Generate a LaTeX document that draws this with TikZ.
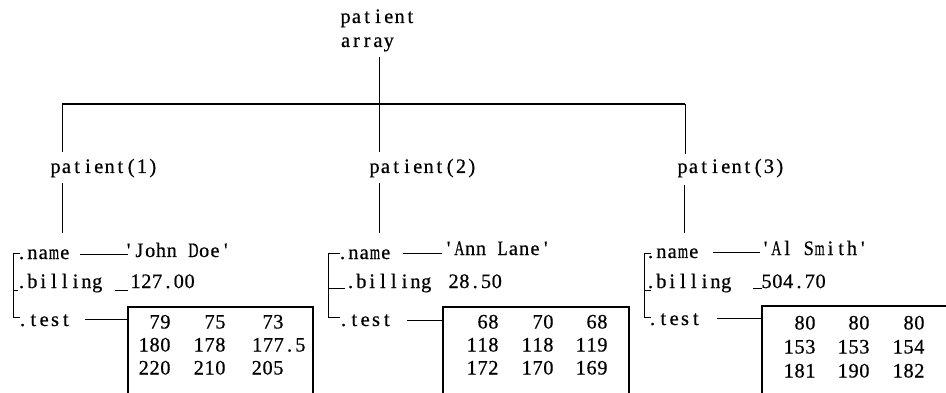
\documentclass[tikz,border=0pt]{standalone}
\usepackage{fontspec}
\usepackage{graphicx}
\newfontfamily\cellfont{Liberation Serif}[FakeBold=0.6]
\newlength\cellw \setlength\cellw{10.8pt}
\newlength\glyphw
\makeatletter
\newcommand\onecell[1]{\sbox0{#1}\setlength\glyphw{\wd0}%
  \ifdim\glyphw>0.94\cellw
    \pgfmathsetmacro\cellsc{0.94*\the\cellw/\the\glyphw}%
    \makebox[\cellw][c]{\scalebox{\cellsc}[1]{#1}}%
  \else\makebox[\cellw][c]{#1}\fi}
\newcommand\mono[1]{\@tfor\mch:=#1\do{\onecell{\mch}}}
\makeatother
\begin{document}
\begin{tikzpicture}[x=1pt,y=-1pt,
  txt/.style={font=\cellfont\fontsize{20.5}{25}\selectfont, inner sep=0pt},
  lbl/.style={txt, anchor=base west},
  num/.style={txt, anchor=base east},
  ln/.style={line width=0.9pt},
  heavy/.style={line width=1.4pt}]
\useasboundingbox (0,0) rectangle (946,393);
% top
\node[lbl] (pat) at (340,23) {\mono{patient}};
\node[lbl] (arr) at (340,47) {\mono{array}};
\coordinate (top) at (379,57);
\coordinate (hl) at (62,104);
\coordinate (hr) at (685,104);
\draw[heavy] (hl) -- (hr);
\node[lbl] (p1) at (50,173) {\mono{patient(1)}};
\node[lbl] (p2) at (369,173) {\mono{patient(2)}};
\node[lbl] (p3) at (677,173) {\mono{patient(3)}};
\coordinate (p1t) at (62,152); \coordinate (p1b) at (62,183); \coordinate (p1e) at (62,233);
\coordinate (p2t) at (379,152); \coordinate (p2b) at (379,183); \coordinate (p2e) at (379,233);
\coordinate (p3t) at (685,154); \coordinate (p3b) at (684,185); \coordinate (p3e) at (684,233);
\draw[ln] (top) -- (p2t);
\draw[ln] (hl) -- (p1t);
\draw[ln] (hr) -- (p3t);
\draw[ln] (p1b) -- (p1e);
\draw[ln] (p2b) -- (p2e);
\draw[ln] (p3b) -- (p3e);
% ---------- patient 1
\draw[ln] (20,253) -- (13,253) -- (13,317) -- (20,317);
\draw[ln] (13,290) -- (18,290);
\node[lbl] (n1) at (16,259) {\mono{.name}};
\node[lbl] (b1) at (16,288) {\mono{.billing}};
\node[lbl] (t1) at (17,326) {\mono{.test}};
\node[lbl] (v1) at (123,257) {\mono{'John~Doe'}};
\node[lbl] (c1) at (130,288) {\mono{127.00}};
\coordinate (n1a) at (80,254); \coordinate (n1b) at (128,254);
\coordinate (b1a) at (115,290); \coordinate (b1b) at (128,290);
\coordinate (t1a) at (85,319); \coordinate (t1b) at (128,319);
\draw[ln] (n1a) -- (n1b);
\draw[ln] (b1a) -- (b1b);
\draw[ln] (t1a) -- (t1b);
\draw[heavy] (128,393) -- (128,307) -- (313,307) -- (313,393);
\node[num] (a11) at (171,328.5) {\mono{79}};
\node[num] (a12) at (226,328.5) {\mono{75}};
\node[num] (a13) at (284,328.5) {\mono{73}};
\node[num] (a21) at (171,351.5) {\mono{180}};
\node[num] (a22) at (226,351.5) {\mono{178}};
\node[lbl] (a23) at (251.6,351.5) {\mono{177.5}};
\node[num] (a31) at (171,374.5) {\mono{220}};
\node[num] (a32) at (226,374.5) {\mono{210}};
\node[num] (a33) at (284,374.5) {\mono{205}};
% ---------- patient 2
\draw[ln] (340,253) -- (328,253) -- (328,317) -- (340,317);
\draw[ln] (328,288) -- (345,288);
\node[lbl] (n2) at (337,259) {\mono{.name}};
\node[lbl] (b2) at (345,288) {\mono{.billing}};
\node[lbl] (t2) at (338,326) {\mono{.test}};
\node[lbl] (v2) at (443,255) {\mono{'Ann~Lane'}};
\node[lbl] (c2) at (448,288) {\mono{28.50}};
\coordinate (n2a) at (403,253); \coordinate (n2b) at (442,253);
\coordinate (t2a) at (407,320); \coordinate (t2b) at (443,320);
\draw[ln] (n2a) -- (n2b);
\draw[ln] (t2a) -- (t2b);
\draw[heavy] (443,393) -- (443,307) -- (629,307) -- (629,393);
\node[num] (d11) at (499,328.5) {\mono{68}};
\node[num] (d12) at (554,328.5) {\mono{70}};
\node[num] (d13) at (608,328.5) {\mono{68}};
\node[num] (d21) at (499,351.5) {\mono{118}};
\node[num] (d22) at (554,351.5) {\mono{118}};
\node[num] (d23) at (608,351.5) {\mono{119}};
\node[num] (d31) at (499,374.5) {\mono{172}};
\node[num] (d32) at (554,374.5) {\mono{170}};
\node[num] (d33) at (608,374.5) {\mono{169}};
% ---------- patient 3
\draw[ln] (651,253) -- (644,253) -- (644,317) -- (651,317);
\draw[ln] (644,290) -- (651,290);
\node[lbl] (n3) at (645,258) {\mono{.name}};
\node[lbl] (b3) at (645,288) {\mono{.billing}};
\node[lbl] (t3) at (647,325) {\mono{.test}};
\node[lbl] (v3) at (760,255) {\mono{'Al~Smith'}};
\node[lbl] (c3) at (761,288) {\mono{504.70}};
\coordinate (n3a) at (713,252); \coordinate (n3b) at (760,252);
\coordinate (b3a) at (753,288); \coordinate (b3b) at (762,288);
\coordinate (t3a) at (717,318); \coordinate (t3b) at (762,318);
\draw[ln] (n3a) -- (n3b);
\draw[ln] (b3a) -- (b3b);
\draw[ln] (t3a) -- (t3b);
\draw[heavy] (762,393) -- (762,306) -- (946,306);
\node[num] (e11) at (816,329.5) {\mono{80}};
\node[num] (e12) at (870,329.5) {\mono{80}};
\node[num] (e13) at (925,329.5) {\mono{80}};
\node[num] (e21) at (816,353.5) {\mono{153}};
\node[num] (e22) at (870,353.5) {\mono{153}};
\node[num] (e23) at (925,353.5) {\mono{154}};
\node[num] (e31) at (816,377.5) {\mono{181}};
\node[num] (e32) at (870,377.5) {\mono{190}};
\node[num] (e33) at (925,377.5) {\mono{182}};
\end{tikzpicture}
\end{document}
